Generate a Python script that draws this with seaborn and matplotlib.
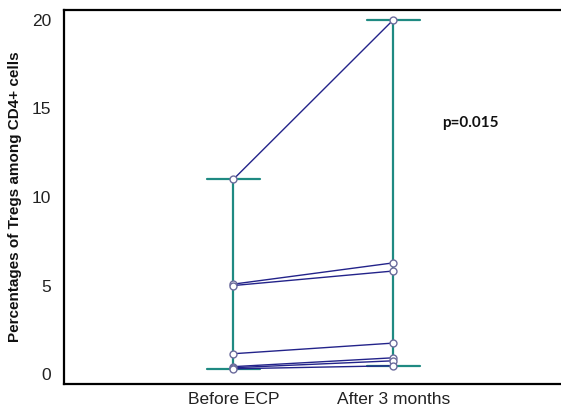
import matplotlib
matplotlib.use("Agg")
import matplotlib.pyplot as plt
import seaborn as sns
import pandas as pd

# Paired Treg percentages, one value per patient at each time point
timepoints = ["Before ECP", "After 3 months"]
before_ecp = [11.0, 5.08, 5.0, 1.15, 0.42, 0.36, 0.30]
after_3_months = [20.0, 6.28, 5.82, 1.75, 0.92, 0.75, 0.47]
p_label = "p=0.015"

patients = list(range(1, len(before_ecp) + 1))
df = pd.DataFrame({
    "patient": patients * 2,
    "time": [timepoints[0]] * len(before_ecp) + [timepoints[1]] * len(after_3_months),
    "value": before_ecp + after_3_months,
})
df["pos"] = df["time"].map({t: i for i, t in enumerate(timepoints)})

sns.set_style("white")
plt.rcParams["font.family"] = ["Liberation Sans", "DejaVu Sans"]

fig = plt.figure(figsize=(5.61, 4.12), dpi=100)
ax = fig.add_axes([64 / 561, 28 / 412, 1 - 64 / 561, 374 / 412])

teal = "#1f8a82"
navy = "#23238a"

# Full range (min to max) bars with caps for each time point
sns.pointplot(
    data=df, x="time", y="value", order=timepoints,
    errorbar=("pi", 100), capsize=0.33, color=teal,
    linestyle="none", marker="", err_kws={"linewidth": 1.6},
    ax=ax,
)

# Individual patient trajectories
sns.lineplot(
    data=df, x="pos", y="value", units="patient", estimator=None,
    color=navy, linewidth=1.0, marker="o", markersize=5,
    markerfacecolor="white", markeredgecolor="#6b6b9c", markeredgewidth=1.0,
    ax=ax, zorder=5, legend=False,
)

ax.set_xlim(-1.06, 2.05)
ax.set_ylim(-0.56, 20.56)
ax.set_xticks([0, 1])
ax.set_xticklabels(timepoints)
ax.set_yticks([0, 5, 10, 15, 20])
ax.set_xlabel("")
ax.set_ylabel("Percentages of Tregs among CD4+ cells", fontsize=11,
              fontweight="bold", color="#111111")
ax.yaxis.set_label_coords(-0.084, 0.5)

ax.tick_params(axis="y", direction="in", length=7, width=1, color="#8b3a3a",
               pad=9, labelsize=12.5, labelcolor="#222222")
ax.tick_params(axis="x", length=0, pad=6, labelsize=12.5, labelcolor="#222222")

for side in ["left", "top", "bottom"]:
    ax.spines[side].set_visible(True)
    ax.spines[side].set_color("black")
    ax.spines[side].set_linewidth(1.6)
ax.spines["right"].set_visible(False)

ax.text(1.48, 14.2, p_label, ha="center", va="center", fontsize=11,
        fontweight="bold", family=["Lato", "DejaVu Sans"], color="#111111")

fig.savefig("out.png", dpi=100)
